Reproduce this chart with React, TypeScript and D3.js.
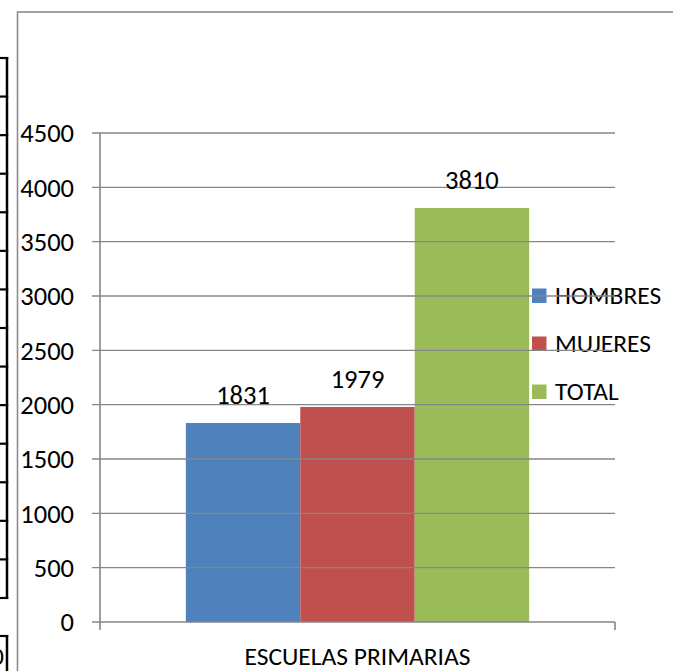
import React from "react";
import * as d3 from "d3";

const categories = ["ESCUELAS PRIMARIAS"];
const seriesNames = ["HOMBRES", "MUJERES", "TOTAL"];
const seriesValues = [1831, 1979, 3810];
const seriesColors = ["#4F81BD", "#C0504D", "#9BBB59"];
const yTicks = [0, 500, 1000, 1500, 2000, 2500, 3000, 3500, 4000, 4500];

const W = 673;
const H = 671;
const FONT = "Carlito, Lato, 'Liberation Sans', sans-serif";
const FS = 25.5;
const FSN = 26.5;

export default function App() {
  const x0 = d3.scaleBand<string>().domain(categories).range([100, 615]).paddingInner(0).paddingOuter(0);
  const x1 = d3
    .scaleBand<string>()
    .domain(seriesNames)
    .range([0, x0.bandwidth()])
    .paddingInner(0)
    .paddingOuter(0.75);
  const y = d3.scaleLinear().domain([0, 4500]).range([622, 133]);

  const tableRows = d3.range(15).map((i) => 58 + i * 38.57);
  const legendY = d3.scalePoint<string>().domain(seriesNames).range([295.5, 391.5]);

  return (
    <svg
      width={W}
      height={H}
      style={{ position: "absolute", left: 0, top: 0, display: "block", background: "#fff" }}
      fontFamily={FONT}
    >
      <rect x={0} y={0} width={W} height={H} fill="#fff" />
      {/* left table remnants */}
      <line x1={7} x2={7} y1={57} y2={599} stroke="#000" strokeWidth={2.5} />
      {tableRows.map((ry, i) => (
        <line key={i} x1={0} x2={8.2} y1={ry} y2={ry} stroke="#000" strokeWidth={2.2} />
      ))}
      <line x1={0} x2={8.2} y1={636} y2={636} stroke="#000" strokeWidth={2.2} />
      <line x1={7} x2={7} y1={635} y2={H} stroke="#000" strokeWidth={2.5} />
      <text x={4} y={665} textAnchor="end" fontSize={FS} fill="#000">0</text>

      {/* chart frame */}
      <rect x={17.5} y={12} width={700} height={700} fill="none" stroke="#8c8c8c" strokeWidth={1.6} />

      {/* bars */}
      {categories.map((c) => (
        <g key={c} transform={`translate(${x0(c)},0)`}>
          {seriesNames.map((s, i) => (
            <rect
              key={s}
              x={x1(s)}
              y={y(seriesValues[i])}
              width={x1.bandwidth()}
              height={y(0) - y(seriesValues[i])}
              fill={seriesColors[i]}
            />
          ))}
        </g>
      ))}

      {/* legend */}
      {seriesNames.map((s, i) => (
        <g key={s}>
          <rect x={532} y={(legendY(s) as number) - 7} width={14.5} height={14.5} fill={seriesColors[i]} />
          <text x={555} y={legendY(s) as number} dy="0.35em" fontSize={FS} fill="#000">
            {s}
          </text>
        </g>
      ))}

      {/* gridlines over everything */}
      {yTicks.filter((t) => t > 0).map((t) => (
        <line key={t} x1={92} x2={615} y1={y(t)} y2={y(t)} stroke="#868686" strokeWidth={1.4} />
      ))}
      {/* axes */}
      <line x1={92} x2={615} y1={y(0)} y2={y(0)} stroke="#868686" strokeWidth={1.6} />
      <line x1={100} x2={100} y1={y(4500)} y2={630} stroke="#868686" strokeWidth={1.6} />
      <line x1={615} x2={615} y1={y(0)} y2={630} stroke="#868686" strokeWidth={1.6} />

      {/* y tick labels */}
      {yTicks.map((t) => (
        <text key={t} x={74} y={y(t)} dy="0.35em" textAnchor="end" fontSize={FSN} fill="#000">
          {t}
        </text>
      ))}

      {/* data labels */}
      {categories.map((c) =>
        seriesNames.map((s, i) => (
          <text
            key={s}
            x={(x0(c) as number) + (x1(s) as number) + x1.bandwidth() / 2}
            y={y(seriesValues[i]) - 19}
            textAnchor="middle"
            fontSize={FSN}
            fill="#000"
          >
            {seriesValues[i]}
          </text>
        ))
      )}

      {/* category label */}
      {categories.map((c) => (
        <text
          key={c}
          x={(x0(c) as number) + x0.bandwidth() / 2}
          y={665}
          textAnchor="middle"
          fontSize={FS}
          fill="#000"
        >
          {c}
        </text>
      ))}
    </svg>
  );
}
